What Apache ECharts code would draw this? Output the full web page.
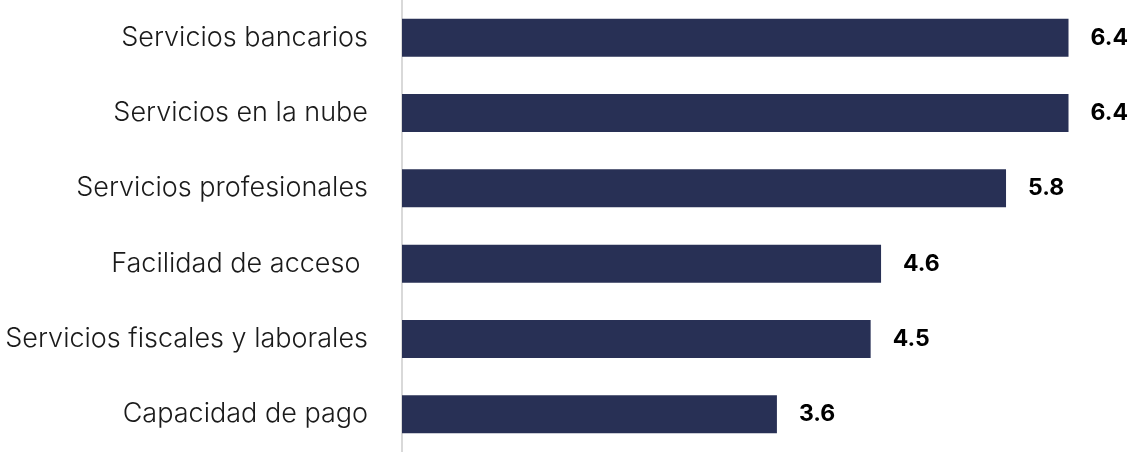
<!DOCTYPE html>
<html>
<head>
<meta charset="utf-8">
<script src="https://cdn.jsdelivr.net/npm/echarts@6/dist/echarts.min.js"></script>
<style>
  html, body { margin: 0; padding: 0; background: #ffffff; }
  #chart { width: 1131px; height: 452px; }
</style>
</head>
<body>
<div id="chart"></div>
<script>
// Categories listed bottom to top (category axis runs upward)
const categories = [
  'Capacidad de pago',
  'Servicios fiscales y laborales',
  'Facilidad de acceso ',
  'Servicios profesionales',
  'Servicios en la nube',
  'Servicios bancarios'
];
const values = [3.6, 4.5, 4.6, 5.8, 6.4, 6.4];

const chart = echarts.init(document.getElementById('chart'));
chart.setOption({
  animation: false,
  grid: { left: 402, right: 0, top: 0, height: 456, containLabel: false },
  xAxis: {
    type: 'value',
    min: 0,
    max: 7,
    show: false
  },
  yAxis: {
    type: 'category',
    data: categories,
    axisTick: { show: false },
    axisLine: { show: true, lineStyle: { color: '#d9d9d9', width: 2 } },
    axisLabel: {
      margin: 34,
      fontFamily: 'Inter',
      fontWeight: 300,
      fontSize: 27,
      color: '#1a1a1a'
    }
  },
  series: [{
    type: 'bar',
    data: values,
    barWidth: 38,
    itemStyle: { color: '#283055' },
    label: {
      show: true,
      position: 'right',
      distance: 22,
      fontFamily: 'Inter',
      fontWeight: 'bold',
      fontSize: 23,
      color: '#000000',
      formatter: p => p.value.toFixed(1)
    }
  }]
});
</script>
</body>
</html>
